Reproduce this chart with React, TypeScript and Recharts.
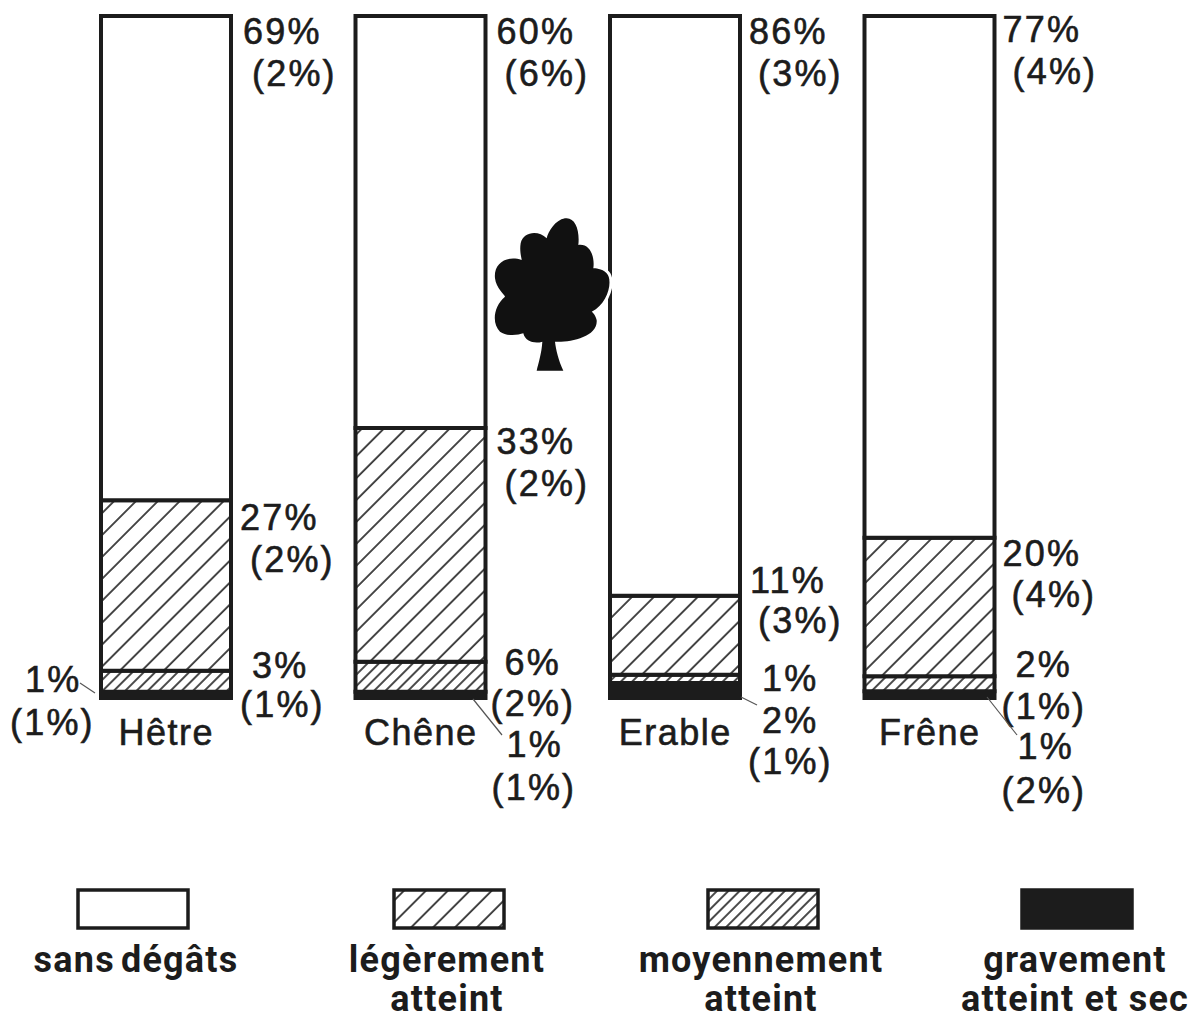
import { BarChart, Bar, XAxis, YAxis, LabelList } from "recharts";

const INK = "#1c1c1c";
const FONT = "'Liberation Sans', Arial, sans-serif";

const species = ["Hêtre", "Chêne", "Erable", "Frêne"];

// bar heights (the printed percentages do not always match them)
const sansDegats = [71, 60.4, 85, 76.5];
const legerement = [25, 34.3, 11.6, 20.3];
const moyennement = [3.1, 4.4, 1.2, 2.2];
const gravement = [0.9, 0.9, 2.2, 1];

// printed labels: [value, (error)]
const sansLabels = [["69%", "(2%)"], ["60%", "(6%)"], ["86%", "(3%)"], ["77%", "(4%)"]];
const legerLabels = [["27%", "(2%)"], ["33%", "(2%)"], ["11%", "(3%)"], ["20%", "(4%)"]];
const moyenLabels = [["3%", "(1%)"], ["6%", "(2%)"], ["1%", ""], ["2%", "(1%)"]];
const graveLabels = [["1%", "(1%)"], ["1%", "(1%)"], ["2%", "(1%)"], ["1%", "(2%)"]];

// label offsets from the top right corner of each segment: [dx1, dy1, dx2, dy2]
const sansOffsets = [[12, 28, 21, 70], [11, 28, 19, 70], [9, 28, 18, 70], [8, 26, 18, 68]];
const legerOffsets = [[9, 30, 19, 72], [11, 26, 19, 68], [10, -3, 18, 37], [8, 28, 17, 69]];
const moyenOffsets = [[21, 7, 9, 46], [19, 13, 5, 54], [22, 16, 0, 0], [21, 1, 7, 43]];
const graveOffsets = [[-206, 0, -221, 43], [21, 65, 6, 108], [22, 50, 8, 91], [23, 68, 7, 112]];

const legendItems = [
  { lines: ["sans dégâts"], fill: "#fff", x: 78, cx: 136, wordSpacing: -4 },
  { lines: ["légèrement", "atteint"], fill: "url(#hatchLight)", x: 394, cx: 447, wordSpacing: 0 },
  { lines: ["moyennement", "atteint"], fill: "url(#hatchMedium)", x: 708, cx: 761, wordSpacing: 0 },
  { lines: ["gravement", "atteint et sec"], fill: INK, x: 1022, cx: 1075, wordSpacing: 0 },
];

const data = species.map((name, i) => ({
  name,
  sans: sansDegats[i],
  leger: legerement[i],
  moyen: moyennement[i],
  grave: gravement[i],
}));

const segmentLabel = (labels: string[][], offsets: number[][]) => (props: any) => {
  const { x, y, width, index } = props;
  const right = Number(x) + Number(width);
  const [a, b] = labels[index];
  const [dx1, dy1, dx2, dy2] = offsets[index];
  const style = { fontFamily: FONT, fontSize: 36, letterSpacing: 2.2, fill: INK, stroke: INK, strokeWidth: 0.6 };
  return (
    <g>
      <text x={right + dx1} y={Number(y) + dy1} style={style}>
        {a}
      </text>
      {b && (
        <text x={right + dx2} y={Number(y) + dy2} style={style}>
          {b}
        </text>
      )}
    </g>
  );
};

// leaders from the thin segments to their labels
const leaders = [
  [80, 683, 95, 693],
  [473, 699, 502, 735],
  [741, 697, 757, 705],
  [987, 697, 1017, 735],
];

// silhouette, in 3x crop coordinates
const treeOutline =
  "M250,512 C235,480 228,450 225,425 C270,428 355,410 350,360 C345,340 335,335 335,335 " +
  "C385,310 400,240 380,220 C365,205 345,205 340,205 C345,170 330,130 295,135 " +
  "C300,90 285,50 255,55 C225,60 205,95 200,115 C175,90 130,95 122,130 " +
  "C118,155 125,175 125,180 C80,165 40,190 45,235 C48,265 75,285 75,290 " +
  "C40,320 35,370 60,395 C80,410 115,405 130,400 C135,425 165,432 187,425 " +
  "C185,460 175,490 170,512 Z";

const Tree = () => (
  <g transform="translate(480,200) scale(0.3333)">
    <path d={treeOutline} fill="#fff" stroke="#fff" strokeWidth={18} />
    <path d={treeOutline} fill="#111" />
  </g>
);

export default function App() {
  return (
    <div style={{ position: "absolute", left: 0, top: 0, width: 1194, height: 1019, background: "#fff" }}>
      <BarChart
        width={1194}
        height={1019}
        data={data}
        margin={{ top: 16, right: 137, bottom: 261, left: 39 }}
        barSize={130}
      >
        <XAxis
          dataKey="name"
          axisLine={false}
          tickLine={false}
          height={60}
          tickMargin={15}
          interval={0}
          tick={{ fontFamily: FONT, fontSize: 36, fill: INK, stroke: INK, strokeWidth: 0.6, letterSpacing: 1.5 }}
        />
        <YAxis hide domain={[0, 100]} />
        <Bar dataKey="grave" stackId="a" fill={INK} stroke={INK} strokeWidth={4} isAnimationActive={false}>
          <LabelList content={segmentLabel(graveLabels, graveOffsets)} />
        </Bar>
        <Bar dataKey="moyen" stackId="a" fill="url(#hatchMedium)" stroke={INK} strokeWidth={4} isAnimationActive={false}>
          <LabelList content={segmentLabel(moyenLabels, moyenOffsets)} />
        </Bar>
        <Bar dataKey="leger" stackId="a" fill="url(#hatchLight)" stroke={INK} strokeWidth={4} isAnimationActive={false}>
          <LabelList content={segmentLabel(legerLabels, legerOffsets)} />
        </Bar>
        <Bar dataKey="sans" stackId="a" fill="#fff" stroke={INK} strokeWidth={4} isAnimationActive={false}>
          <LabelList content={segmentLabel(sansLabels, sansOffsets)} />
        </Bar>
      </BarChart>
      <svg width={1194} height={1019} style={{ position: "absolute", left: 0, top: 0, pointerEvents: "none" }}>
        <defs>
          <pattern id="hatchLight" width={15.5} height={15.5} patternUnits="userSpaceOnUse" patternTransform="rotate(45)">
            <rect width={15.5} height={15.5} fill="#fff" />
            <line x1={1} y1={0} x2={1} y2={15.5} stroke={INK} strokeWidth={1.6} />
          </pattern>
          <pattern id="hatchMedium" width={8} height={8} patternUnits="userSpaceOnUse" patternTransform="rotate(45)">
            <rect width={8} height={8} fill="#fff" />
            <line x1={1} y1={0} x2={1} y2={8} stroke={INK} strokeWidth={1.6} />
          </pattern>
        </defs>
        <Tree />
        {leaders.map(([x1, y1, x2, y2], i) => (
          <line key={i} x1={x1} y1={y1} x2={x2} y2={y2} stroke="#555" strokeWidth={1.2} />
        ))}
        {legendItems.map((item) => (
          <g key={item.cx}>
            <rect x={item.x} y={890} width={110} height={38} fill={item.fill} stroke={INK} strokeWidth={3.5} />
            {item.lines.map((line, i) => (
              <text
                key={line}
                x={item.cx}
                y={972 + i * 39}
                textAnchor="middle"
                style={{ fontFamily: "Roboto, sans-serif", fontSize: 36, fontWeight: 700, letterSpacing: 1.2, wordSpacing: item.wordSpacing, fill: INK }}
              >
                {line}
              </text>
            ))}
          </g>
        ))}
      </svg>
    </div>
  );
}
